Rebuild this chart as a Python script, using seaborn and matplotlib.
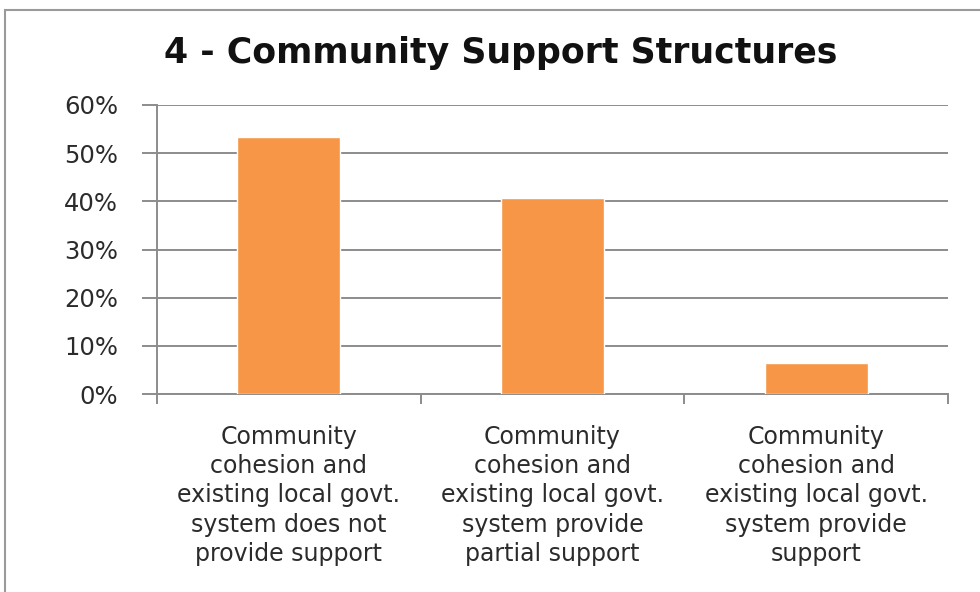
import matplotlib
matplotlib.use("Agg")
import matplotlib.pyplot as plt
from matplotlib.patches import Rectangle
from matplotlib.ticker import PercentFormatter
import seaborn as sns
import pandas as pd

title = "4 - Community Support Structures"
categories = [
    "Community\ncohesion and\nexisting local govt.\nsystem does not\nprovide support",
    "Community\ncohesion and\nexisting local govt.\nsystem provide\npartial support",
    "Community\ncohesion and\nexisting local govt.\nsystem provide\nsupport",
]
shares = [53.3, 40.6, 6.4]
y_ticks = [0, 10, 20, 30, 40, 50, 60]

sns.set_theme(style="white")
plt.rcParams["font.family"] = ["DejaVu Sans"]

df = pd.DataFrame({"category": categories, "share": shares})

fig = plt.figure(figsize=(9.8, 5.92), dpi=100)
ax = fig.add_axes([157 / 980, 1 - 394 / 592, (948 - 157) / 980, (394 - 105) / 592])

sns.barplot(data=df, x="category", y="share", color="#F79646", saturation=1,
            width=0.39, ax=ax, zorder=3)

grid_color = "#8c8c8c"
text_color = "#2b2b2b"
ax.set_ylim(0, 60)
ax.set_xlim(-0.5, 2.5)
ax.set_yticks(y_ticks)
ax.yaxis.set_major_formatter(PercentFormatter(decimals=0))
ax.yaxis.grid(True, color=grid_color, linewidth=1.4, zorder=0)
ax.set_axisbelow(True)

ax.set_xticks(range(len(categories)))
ax.set_xticklabels(categories, fontsize=17, color=text_color, linespacing=1.28)
ax.set_xticks([-0.5, 0.5, 1.5, 2.5], minor=True)
ax.tick_params(axis="x", which="major", length=0, pad=22)
ax.tick_params(axis="x", which="minor", length=7, width=1.4, color=grid_color,
               direction="out", bottom=True)
ax.tick_params(axis="y", length=11, width=1.4, color=grid_color, left=True,
               labelsize=17.5, labelcolor=text_color, pad=17)

for side in ("top", "right"):
    ax.spines[side].set_visible(False)
for side in ("left", "bottom"):
    ax.spines[side].set_color(grid_color)
    ax.spines[side].set_linewidth(1.4)

ax.set_xlabel("")
ax.set_ylabel("")

fig.text(0.511, 1 - 53 / 592, title, ha="center", va="center",
         fontsize=25, fontweight="bold", color="#111111")

# chart-area border
fig.patches.append(Rectangle((5 / 980, -0.05), 1.2, 1 - 10 / 592 + 0.05,
                             transform=fig.transFigure, fill=False,
                             edgecolor="#9a9a9a", linewidth=1.5))

fig.savefig("out.png", dpi=100, facecolor="white")
